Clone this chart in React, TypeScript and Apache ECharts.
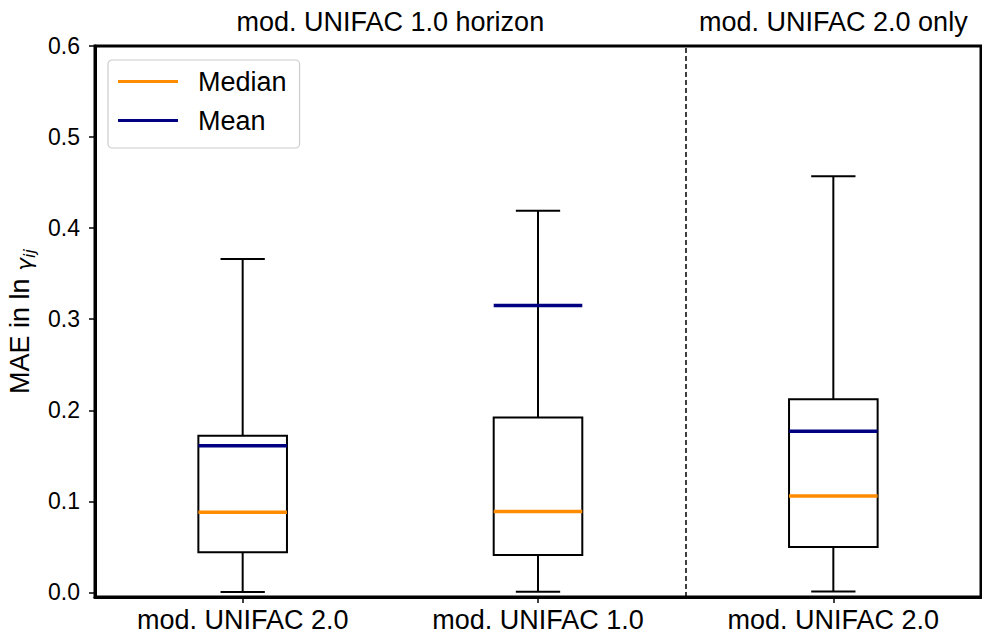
import React, { useEffect, useRef } from "react";
import * as echarts from "echarts";

const categories = ["mod. UNIFAC 2.0", "mod. UNIFAC 1.0", "mod. UNIFAC 2.0"];
const positions = [1, 2, 3];
const whiskerLow = [0.0005, 0.0008, 0.001];
const q1Values = [0.044, 0.041, 0.05];
const medianValues = [0.088, 0.089, 0.106];
const q3Values = [0.172, 0.192, 0.212];
const whiskerHigh = [0.366, 0.419, 0.457];
const meanValues = [0.161, 0.315, 0.177];
const groupTitles = ["mod. UNIFAC 1.0 horizon", "mod. UNIFAC 2.0 only"];
const groupCenters = [1.5, 3];
const dividerAt = [2.5];
const yTicks = [0, 0.1, 0.2, 0.3, 0.4, 0.5, 0.6];

const FONT = "'Liberation Sans', Arial, Helvetica, sans-serif";
const BOX_HALF = 0.15;
const CAP_HALF = 0.075;

export default function App() {
  const ref = useRef<HTMLDivElement>(null);
  useEffect(() => {
    if (!ref.current) return;
    const chart = echarts.init(ref.current, null, { renderer: "svg" });

    const boxData = positions.map((p, i) => [p, whiskerLow[i], q1Values[i], q3Values[i], whiskerHigh[i]]);
    const medData = positions.map((p, i) => [p, medianValues[i]]);
    const meanData = positions.map((p, i) => [p, meanValues[i]]);

    const lineItem = (color: string, width: number) => (params: any, api: any) => {
      const x = api.value(0);
      const v = api.value(1);
      const a = api.coord([x - BOX_HALF, v]);
      const b = api.coord([x + BOX_HALF, v]);
      return {
        type: "line",
        shape: { x1: a[0], y1: a[1], x2: b[0], y2: b[1] },
        style: { stroke: color, lineWidth: width },
      };
    };

    const option: any = {
      animation: false,
      textStyle: { fontFamily: FONT },
      grid: {
        left: 95,
        right: 1,
        top: 46,
        bottom: 37,
        show: true,
        borderColor: "#000",
        borderWidth: 3,
        containLabel: false,
        outerBoundsMode: "none",
      },
      legend: {
        orient: "vertical",
        left: 108,
        top: 60,
        itemWidth: 60,
        itemHeight: 3,
        itemGap: 12,
        padding: [8, 13, 14, 10],
        borderColor: "#cccccc",
        borderWidth: 1.2,
        borderRadius: 4,
        backgroundColor: "rgba(255,255,255,0.8)",
        textStyle: { fontSize: 27, color: "#000", fontFamily: FONT, padding: [0, 0, 0, 15] },
        data: [
          { name: "Median", icon: "rect" },
          { name: "Mean", icon: "rect" },
        ],
      },
      xAxis: [
        {
          type: "value",
          min: 0.5,
          max: 3.5,
          position: "bottom",
          splitLine: { show: false },
          axisLine: { show: true, onZero: false, lineStyle: { color: "#000", width: 3 } },
          axisTick: {
            show: true,
            customValues: positions,
            length: 6,
            lineStyle: { color: "#000", width: 1.5 },
          },
          axisLabel: {
            customValues: positions,
            formatter: (v: number) => categories[positions.indexOf(v)] ?? "",
            fontSize: 27,
            color: "#000",
            margin: 9,
            fontFamily: FONT,
          },
        },
        {
          type: "value",
          min: 0.5,
          max: 3.5,
          position: "top",
          splitLine: { show: false },
          axisLine: { show: false },
          axisTick: { show: false },
          axisLabel: {
            customValues: groupCenters,
            formatter: (v: number) => groupTitles[groupCenters.indexOf(v)] ?? "",
            fontSize: 27,
            color: "#000",
            margin: 11,
            fontFamily: FONT,
          },
        },
      ],
      yAxis: {
        type: "value",
        min: -0.005,
        max: 0.6,
        splitLine: { show: false },
        axisLine: { show: true, onZero: false, lineStyle: { color: "#000", width: 3 } },
        axisTick: {
          show: true,
          customValues: yTicks,
          length: 6,
          lineStyle: { color: "#000", width: 1.5 },
        },
        axisLabel: {
          customValues: yTicks,
          formatter: (v: number) => v.toFixed(1),
          fontSize: 23,
          color: "#000",
          margin: 15,
          fontFamily: FONT,
        },
        name: "{a|MAE in ln }{g|γ}{s|ij}",
        nameLocation: "middle",
        nameGap: 57,
        nameTextStyle: {
          rich: {
            a: { fontSize: 27, color: "#000", fontFamily: FONT, verticalAlign: "top", padding: [0, 0, 0, 0] },
            g: { fontSize: 22, color: "#000", fontFamily: "'DejaVu Sans', sans-serif", fontStyle: "italic", verticalAlign: "top", padding: [7, 0, 0, 0] },
            s: { fontSize: 16, color: "#000", fontFamily: "'DejaVu Sans', sans-serif", fontStyle: "italic", verticalAlign: "top", padding: [15, 0, 0, 0] },
          },
        },
      },
      series: [
        {
          name: "Boxes",
          type: "custom",
          xAxisIndex: 0,
          encode: { x: 0, y: [1, 2, 3, 4] },
          data: boxData,
          z: 2,
          renderItem: (params: any, api: any) => {
            const x = api.value(0);
            const lo = api.value(1);
            const a = api.value(2);
            const b = api.value(3);
            const hi = api.value(4);
            const pLo = api.coord([x, lo]);
            const pA = api.coord([x, a]);
            const pB = api.coord([x, b]);
            const pHi = api.coord([x, hi]);
            const left = api.coord([x - BOX_HALF, a])[0];
            const right = api.coord([x + BOX_HALF, a])[0];
            const cl = api.coord([x - CAP_HALF, lo])[0];
            const cr = api.coord([x + CAP_HALF, lo])[0];
            const st = { stroke: "#000", lineWidth: 2, fill: "none" };
            return {
              type: "group",
              children: [
                { type: "line", shape: { x1: pLo[0], y1: pLo[1], x2: pA[0], y2: pA[1] }, style: st },
                { type: "line", shape: { x1: pB[0], y1: pB[1], x2: pHi[0], y2: pHi[1] }, style: st },
                { type: "line", shape: { x1: cl, y1: pLo[1], x2: cr, y2: pLo[1] }, style: st },
                { type: "line", shape: { x1: cl, y1: pHi[1], x2: cr, y2: pHi[1] }, style: st },
                { type: "rect", shape: { x: left, y: pB[1], width: right - left, height: pA[1] - pB[1] }, style: st },
              ],
            };
          },
          markLine: {
            silent: true,
            symbol: ["none", "none"],
            label: { show: false },
            lineStyle: { color: "#000", type: [5, 3], width: 1.5 },
            data: dividerAt.map((v) => ({ xAxis: v })),
          },
        },
        {
          name: "Median",
          type: "custom",
          xAxisIndex: 0,
          encode: { x: 0, y: 1 },
          data: medData,
          z: 3,
          itemStyle: { color: "#ff8c00" },
          renderItem: lineItem("#ff8c00", 3.5),
        },
        {
          name: "Mean",
          type: "custom",
          xAxisIndex: 0,
          encode: { x: 0, y: 1 },
          data: meanData,
          z: 4,
          itemStyle: { color: "#000080" },
          renderItem: lineItem("#000080", 3.5),
        },
      ],
    };
    chart.setOption(option);
    return () => chart.dispose();
  }, []);

  return (
    <div
      ref={ref}
      style={{ position: "fixed", left: 0, top: 0, width: 982, height: 634, background: "#fff" }}
    />
  );
}
